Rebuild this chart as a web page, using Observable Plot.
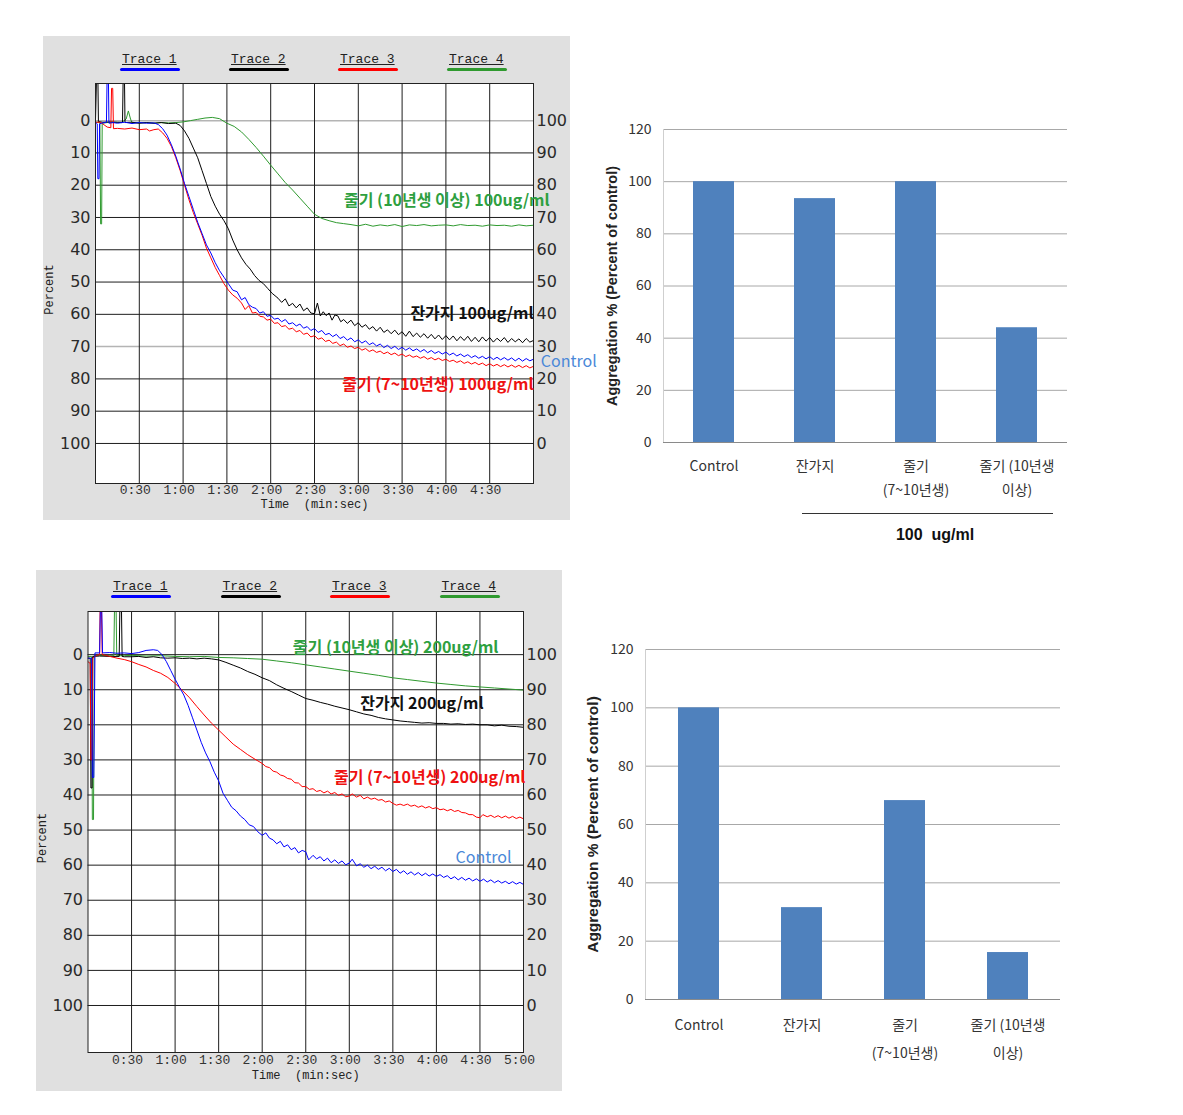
<!DOCTYPE html>
<html>
<head>
<meta charset="utf-8">
<script src="https://cdn.jsdelivr.net/npm/d3@7"></script>
<script src="https://cdn.jsdelivr.net/npm/@observablehq/plot@0.6"></script>
<style>
  body { margin: 0; background: #fff; }
  #root { position: relative; width: 1183px; height: 1115px; overflow: hidden; font-family: "Liberation Sans", Arial, sans-serif; }
  .panel { position: absolute; background: #e0e0e0; }
  .holder { position: absolute; }
  .panel svg, .holder svg { position: absolute; left: 0; top: 0; overflow: visible; }
  .leg { position: absolute; font-family: "Liberation Mono", monospace; font-size: 13px; line-height: 14px; color: #222; z-index: 2; }
  .leg span { text-decoration: underline; text-underline-offset: 1px; }
  .leg .bar { height: 3px; width: 60px; margin-left: -2px; margin-top: 1px; border-radius: 2px; }
  .bracket { position: absolute; height: 1px; background: #333; }
  .group { position: absolute; font-family: "Liberation Sans", Arial, sans-serif; font-weight: bold; font-size: 16px; color: #111; transform: translateX(-50%); white-space: pre; }
</style>
</head>
<body>
<div id="root"></div>
<script>
// ---------------- DATA ----------------
const traceNames = ["Trace 1", "Trace 2", "Trace 3", "Trace 4"];
const gridRows = [0, 10, 20, 30, 40, 50, 60, 70, 80, 90, 100];
const timeTicksA = [30, 60, 90, 120, 150, 180, 210, 240, 270];
const timeLabelsA = ["0:30", "1:00", "1:30", "2:00", "2:30", "3:00", "3:30", "4:00", "4:30"];
const timeTicksB = [30, 60, 90, 120, 150, 180, 210, 240, 270, 300];
const timeLabelsB = ["0:30", "1:00", "1:30", "2:00", "2:30", "3:00", "3:30", "4:00", "4:30", "5:00"];
const xTitle = "Time  (min:sec)";
const yTitle = "Percent";

// 100 ug/ml traces: [time s, percent]
const a100Control = [[0,0.5],[1.2,1],[1.6,18],[2.4,18],[2.8,1],[4,0.8],[7.5,0.5],[8,-15],[8.8,-15],[9.2,0.8],[12,0.6],[15,0.8],[20,0.5],[25,0.9],[30,0.6],[35,0.8],[40,0.7],[43,1.2],[46,2.5],[49,4.5],[52,7.5],[55,11],[58,15],[61,19.5],[64,23.5],[67,27.5],[70,31.5],[73,35],[76,38.5],[79,41],[82,44],[85,46.5],[88,48.5],[91,50.5],[94,52.5],[97,53],[100,55.5],[102.5,54.8],[105,57],[107.5,57.8],[110,58.2],[112.5,59.6],[115,59.2],[117.5,60.6],[120,60.3],[122.5,61.5],[125,61.2],[127.5,62.3],[130,61.6],[132.5,63],[135,62.6],[137.5,63.6],[140,63],[142.5,64.3],[145,63.8],[147.5,65],[150,64.4],[152.5,65.6],[155,65],[157.5,66.3],[160,65.9],[162.5,66.9],[165,66.2],[167.5,67.5],[170,66.9],[172.5,68],[175,67.3],[177.5,68.5],[180,67.9],[182.5,68.9],[185,68.2],[187.5,69.4],[190,68.8],[192.5,69.8],[195,69.2],[197.5,70.3],[200,69.6],[202.5,70.6],[205,69.9],[207.5,70.9],[210,70.2],[212.5,71.1],[215,70.4],[217.5,71.3],[220,70.7],[222.5,71.6],[225,70.9],[227.5,71.9],[230,71.2],[232.5,72.1],[235,71.5],[237.5,72.3],[240,71.7],[242.5,72.6],[245,72],[247.5,72.9],[250,72.3],[252.5,73.1],[255,72.5],[257.5,73.4],[260,72.8],[262.5,73.6],[265,73],[267.5,73.8],[270,73.1],[272.5,74],[275,73.3],[277.5,74.1],[280,73.4],[282.5,74.2],[285,73.5],[287.5,74.4],[290,73.6],[292.5,74.5],[295,73.7],[297.5,74.4],[300,73.9]];
const a100Twig = [[0,0],[0.8,-15],[1.6,-15],[2,0.3],[5,0.5],[10,0.4],[15,0.5],[18.5,0.5],[19,-15],[19.8,-15],[20.2,0.6],[25,0.5],[30,0.8],[35,0.6],[40,0.8],[45,0.6],[50,0.9],[55,0.8],[58,1.5],[61,3.2],[64,5.5],[67,8.5],[70,11.5],[73,15.5],[76,19.5],[79,23.5],[82,26.5],[85,29],[88,31],[91,33.5],[94,37],[97,40],[100,42.5],[103,44.5],[106,46],[109,48],[112,49.5],[115,50.5],[118,52],[121,53.5],[125,55],[127.5,56.3],[130,55.2],[132.5,57.4],[135,56.6],[137.5,58],[140,56.8],[142.5,58.9],[145,58],[147.5,59.6],[150,59.8],[152,56.5],[154,60.5],[156,59.2],[158,60.4],[160,59.6],[162,61.8],[164,60.2],[166,60.5],[168,62.3],[170,61.6],[172.5,62.8],[175,61.8],[177.5,63.5],[180,62.6],[182.5,64],[185,63.2],[187.5,64.6],[190,63.8],[192.5,65.2],[195,64],[197.5,65.6],[200,64.8],[202.5,66],[205,64.9],[207.5,66.3],[210,65.4],[212.5,66.8],[215,65.2],[217.5,66.9],[220,65.8],[222.5,67.1],[225,66],[227.5,67.4],[230,66.2],[232.5,67.6],[235,66.4],[237.5,67.8],[240,66.6],[242.5,67.9],[245,66.7],[247.5,68.2],[250,66.9],[252.5,68.1],[255,66.8],[257.5,68.4],[260,67.1],[262.5,68.5],[265,67],[267.5,68.3],[270,67.2],[272.5,68.6],[275,67.4],[277.5,68.4],[280,67.2],[282.5,68.7],[285,67.5],[287.5,68.5],[290,67.6],[292.5,68.8],[295,67.5],[297.5,68.6],[300,68.1]];
const a100Stem710 = [[0,0.5],[3,0.5],[5,1],[8,2],[10.5,2.2],[11,-10],[11.8,-10],[12.3,2.5],[15,2.4],[20,2.6],[25,2.3],[30,2.8],[35,2.6],[37,3.2],[40,2.8],[43,2.6],[46,3.8],[49,5.5],[52,8],[55,11.5],[58,15.5],[61,20],[64,24.5],[67,28.5],[70,32],[73,35.5],[76,39.5],[79,42.5],[82,45.5],[85,48],[88,50.5],[91,52.5],[94,54],[97,55],[100,56.5],[102.5,58.5],[105,57.3],[107.5,59.6],[110,59.4],[112.5,60.6],[115,60.8],[117.5,61.8],[120,61.5],[122.5,62.8],[125,62.6],[127.5,63.8],[130,63.5],[132.5,64.6],[135,64.3],[137.5,65.4],[140,65],[142.5,66.2],[145,65.8],[147.5,67],[150,66.6],[152.5,67.7],[155,67.3],[157.5,68.4],[160,68],[162.5,69],[165,68.6],[167.5,69.7],[170,69.2],[172.5,70.2],[175,69.8],[177.5,70.6],[180,70.2],[182.5,71.1],[185,70.6],[187.5,71.5],[190,71],[192.5,71.8],[195,71.4],[197.5,72.2],[200,71.7],[202.5,72.5],[205,72],[207.5,72.8],[210,72.3],[212.5,73.1],[215,72.6],[217.5,73.3],[220,72.9],[222.5,73.6],[225,73.1],[227.5,73.9],[230,73.4],[232.5,74.1],[235,73.6],[237.5,74.3],[240,73.9],[242.5,74.6],[245,74.2],[247.5,74.9],[250,74.4],[252.5,75.2],[255,74.7],[257.5,75.4],[260,74.9],[262.5,75.6],[265,75.1],[267.5,75.9],[270,75.3],[272.5,76],[275,75.5],[277.5,76.2],[280,75.6],[282.5,76.3],[285,75.7],[287.5,76.4],[290,75.8],[292.5,76.5],[295,75.9],[297.5,76.6],[300,76.1]];
const a100Stem10 = [[0,0.5],[3,0.5],[3.5,32],[4.2,32],[4.6,0.8],[8,0.6],[12,0.5],[18,0.6],[21,-0.5],[22.5,-3],[24,-0.5],[25,0.6],[30,0.7],[35,0.6],[40,0.8],[45,0.6],[50,0.7],[55,0.6],[60,0.4],[65,0],[70,-0.4],[75,-0.8],[80,-1],[85,-0.6],[90,0.8],[95,1.8],[100,3.5],[105,5.8],[110,8.3],[115,11],[120,13.8],[125,16.5],[130,19.2],[135,21.5],[140,24],[145,26.5],[150,29],[155,30.3],[160,31],[165,31.6],[170,31.9],[175,32.2],[180,32.6],[185,32.1],[190,32.7],[195,32.3],[200,32.6],[205,32.2],[210,32.8],[215,32.3],[220,32.5],[225,32.2],[230,32.6],[235,32.4],[240,32.3],[245,32.6],[250,32.2],[255,32.5],[260,32.4],[265,32.7],[270,32.3],[275,32.5],[280,32.4],[285,32.7],[290,32.3],[295,32.6],[300,32.4]];

// 200 ug/ml traces
const b200Control = [[0,1],[2.5,1],[3,35],[4,35],[4.8,-0.5],[8,-0.5],[8.6,-15],[9.4,-15],[10,-0.5],[15,-0.6],[20,-0.4],[25,-0.5],[30,-0.3],[35,-0.6],[40,-1.2],[45,-1.4],[48,-1.2],[51,0],[54,2],[57,4.5],[60,7],[63,9.3],[66,11.5],[69,14.5],[72,18],[75,21.5],[78,25],[81,28],[84,30.5],[87,33.5],[90,36],[93,39.5],[96,41.5],[99,43.5],[102,44.5],[105,46],[108,47],[111,48.5],[114,49],[117,50.5],[120,51.5],[122.5,50.8],[125,52.3],[127.5,52.8],[130,53.9],[132.5,53.2],[135,54.8],[137.5,54.2],[140,55.6],[142.5,55],[145,56.5],[147.5,55.8],[150,56.2],[152,58.5],[155,57.2],[157.5,58.2],[160,57.6],[162.5,58.8],[165,58],[167.5,59.3],[170,58.5],[172.5,59.5],[175,58.8],[177.5,59.9],[180,59.4],[182,58.3],[185,60.2],[187.5,59.6],[190,60.6],[192.5,60],[195,61],[197.5,60.3],[200,61.2],[202.5,60.6],[205,61.6],[207.5,60.9],[210,61.8],[212.5,61.2],[215,62.3],[217.5,61.6],[220,62.6],[222.5,61.9],[225,62.8],[227.5,62.1],[230,63],[232.5,62.3],[235,63.1],[237.5,62.5],[240,63.2],[242.5,62.7],[245,63.5],[247.5,63],[250,63.9],[252.5,63.3],[255,64.2],[257.5,63.5],[260,64.3],[262.5,63.7],[265,64.5],[267.5,63.9],[270,64.6],[272.5,64],[275,64.8],[277.5,64.2],[280,65],[282.5,64.4],[285,65.1],[287.5,64.6],[290,65.3],[292.5,64.7],[295,65.4],[297.5,64.9],[300,65.5]];
const b200Twig = [[0,1],[1.5,1],[2,38],[2.8,38],[3.2,0.5],[8,0.4],[15,0.5],[21.5,0.5],[22,-15],[23,-15],[23.5,0.5],[25,0.6],[30,0.6],[35,0.5],[40,0.8],[45,0.6],[50,0.9],[55,1],[60,0.9],[65,1.1],[70,1],[75,1.2],[80,1],[85,1.2],[90,1.5],[95,2.2],[100,3],[105,3.8],[110,4.8],[115,5.6],[120,6.6],[125,7.4],[130,8.6],[135,9.6],[140,10.5],[145,11.5],[150,12.5],[155,13],[160,13.6],[165,14.1],[170,14.7],[175,15.2],[180,15.7],[185,16.3],[190,16.9],[195,17.3],[200,17.9],[205,18.3],[210,18.6],[215,18.9],[220,19.1],[225,19.3],[230,19.5],[235,19.4],[240,19.6],[245,19.6],[250,19.8],[255,19.7],[260,19.9],[265,19.8],[270,20],[275,20],[280,20.3],[285,20.1],[290,20.4],[295,20.5],[300,20.7]];
const b200Stem710 = [[0,2],[1.5,2.5],[2,30],[2.8,30],[3.2,1],[6,0.2],[8,0],[8.4,-15],[9.2,-15],[9.8,0],[12,0.2],[15,0.5],[20,1],[25,1.4],[30,2],[35,2.8],[40,3.5],[45,4.5],[50,5.3],[55,6.5],[60,8.2],[65,10.2],[70,12.3],[75,14.8],[80,17.2],[85,19.5],[90,21.5],[95,23.5],[100,25.5],[105,27],[110,28.5],[115,29.8],[120,31],[122.5,31.9],[125,32.2],[127.5,33.2],[130,33.5],[132.5,34.3],[135,34.6],[137.5,35.3],[140,35.5],[142.5,36.5],[145,36.6],[147.5,37.6],[150,37.6],[152.5,38.4],[155,38.2],[157.5,39],[160,38.7],[162.5,39.4],[165,38.9],[167.5,39.7],[170,39.3],[172.5,40.1],[175,39.7],[177.5,40.5],[180,40.3],[182,39.7],[185,40.6],[187.5,40.1],[190,41.1],[192.5,40.6],[195,41.2],[197.5,40.9],[200,41.5],[202.5,41.3],[205,42],[207.5,41.7],[210,42.4],[212.5,42.9],[215,42.6],[217.5,43],[220,42.6],[222.5,43.2],[225,42.9],[227.5,43.5],[230,43.1],[232.5,43.7],[235,43.3],[237.5,43.9],[240,43.6],[242.5,44.2],[245,44],[247.5,44.5],[250,44.1],[252.5,44.7],[255,44.4],[257.5,45],[260,45.1],[262.5,45.6],[265,45.6],[267.5,46.3],[270,46.5],[272,45.6],[275,46.2],[277.5,45.8],[280,46.4],[282.5,45.9],[285,46.5],[287.5,46],[290,46.6],[292.5,46.1],[295,46.7],[297.5,46.3],[300,46.8]];
const b200Stem10 = [[0,0.5],[2.5,0.5],[3,47],[3.8,47],[4.3,0.3],[8,0.2],[15,0.3],[17.8,0.3],[18.3,-15],[19.3,-15],[19.8,0.3],[25,0.3],[30,0.2],[40,0.4],[50,0.3],[60,0.5],[70,0.6],[80,0.5],[90,0.8],[100,0.9],[110,1.1],[120,1.3],[130,1.8],[140,2.3],[150,2.9],[160,3.5],[170,4.1],[180,4.7],[190,5.3],[200,5.9],[210,6.6],[220,7.1],[230,7.6],[240,8.1],[250,8.5],[260,8.9],[270,9.2],[280,9.5],[290,9.8],[300,10.1]];

// annotations (text, time, percent)
const notes100 = [
  { key: "stem10", text: "줄기 (10년생 이상) 100ug/ml", t: 311, v: 24.8, anchor: "end" },
  { key: "twig", text: "잔가지 100ug/ml", t: 300, v: 59.8, anchor: "end" },
  { key: "control", text: "Control", t: 305, v: 74.6, anchor: "start" },
  { key: "stem710", text: "줄기 (7~10년생) 100ug/ml", t: 300, v: 81.7, anchor: "end" }
];
const notes200 = [
  { key: "stem10", text: "줄기 (10년생 이상) 200ug/ml", t: 282.7, v: -2, anchor: "end" },
  { key: "twig", text: "잔가지 200ug/ml", t: 272.4, v: 14, anchor: "end" },
  { key: "stem710", text: "줄기 (7~10년생) 200ug/ml", t: 301.3, v: 35, anchor: "end" },
  { key: "control", text: "Control", t: 291.7, v: 57.8, anchor: "end" }
];

// bar charts
const barCats = ["Control", "잔가지", "줄기\n(7~10년생)", "줄기 (10년생\n이상)"];
const bar100 = [100, 93.5, 100, 44];
const bar200 = [100, 31.5, 68.2, 16.1];
const barTicks = [0, 20, 40, 60, 80, 100, 120];
const barYTitle = "Aggregation % (Percent of control)";
const groupLabel = "100  ug/ml";

// ---------------- STYLE ----------------
const traceColor = { control: "#0000ff", twig: "#000000", stem710: "#ff0000", stem10: "#2f9a2f" };
const noteColor = { control: "#4a88d8", twig: "#111111", stem710: "#ee1111", stem10: "#2ea040" };
const legendColors = [traceColor.control, traceColor.twig, traceColor.stem710, traceColor.stem10];

const root = document.getElementById("root");

function tracePanel(cfg) {
  const box = document.createElement("div");
  box.className = "panel";
  Object.assign(box.style, { left: cfg.left + "px", top: cfg.top + "px", width: cfg.width + "px", height: cfg.height + "px" });
  root.appendChild(box);
  const fmt = new Map(cfg.ticks.map((v, i) => [v, cfg.tickLabels[i]]));
  const dark = gridRows.filter(d => !cfg.grayRows.includes(d));
  const gray = gridRows.filter(d => cfg.grayRows.includes(d));
  const series = [
    { data: cfg.series.stem10, color: traceColor.stem10 },
    { data: cfg.series.twig, color: traceColor.twig },
    { data: cfg.series.stem710, color: traceColor.stem710 },
    { data: cfg.series.control, color: traceColor.control }
  ];
  const svg = Plot.plot({
    width: cfg.width, height: cfg.height,
    marginLeft: cfg.m[0], marginTop: cfg.m[1], marginRight: cfg.m[2], marginBottom: cfg.m[3],
    style: { background: "transparent", overflow: "visible" },
    x: { domain: [0, 300] },
    y: { domain: cfg.yDomain },
    marks: [
      Plot.frame({ fill: "white", stroke: null }),
      Plot.ruleY(dark, { stroke: "#1e1e1e" }),
      Plot.ruleY(gray, { stroke: "#b4b4b4", strokeWidth: 1.5 }),
      Plot.ruleX(cfg.ticks.filter(d => d < 300), { stroke: "#1e1e1e" }),
      ...series.map(s => Plot.line(s.data, { x: d => d[0], y: d => d[1], stroke: s.color, strokeWidth: 1, clip: true })),
      Plot.frame({ stroke: "#222" }),
      Plot.axisY({ ticks: gridRows, anchor: "left", tickSize: 0, tickPadding: 5, fontSize: 16, fontFamily: "DejaVu Sans", fill: "#2a2a2a", label: null }),
      Plot.axisY({ ticks: gridRows, anchor: "right", tickSize: 0, tickPadding: 3, tickFormat: d => String(100 - d), fontSize: 16, fontFamily: "DejaVu Sans", fill: "#2a2a2a", label: null }),
      Plot.axisX({ ticks: cfg.ticks, anchor: "bottom", tickSize: 0, tickPadding: cfg.tickPad, tickFormat: d => fmt.get(d), fontSize: 13, fontFamily: "Liberation Mono", fill: "#333", dx: -4, label: null }),
      Plot.text([xTitle], { frameAnchor: "bottom", dy: cfg.xTitleDy, fontSize: 12, fontFamily: "Liberation Mono", fill: "#222" }),
      Plot.text([yTitle], { frameAnchor: "left", textAnchor: "middle", rotate: -90, dx: -46, dy: 6, fontSize: 12, fontFamily: "Liberation Mono", fill: "#222" }),
      ...cfg.notes.map(n => Plot.text([n], {
        x: "t", y: "v", text: "text", textAnchor: n.anchor,
        fill: noteColor[n.key], fontWeight: n.key === "control" ? "normal" : "bold",
        fontSize: 16, fontFamily: "Noto Sans CJK KR"
      }))
    ]
  });
  box.appendChild(svg);
  traceNames.forEach((name, i) => {
    const d = document.createElement("div");
    d.className = "leg";
    d.style.left = (cfg.legLeft + i * cfg.legStep) + "px";
    d.style.top = cfg.legTop + "px";
    d.innerHTML = `<span>${name}</span><div class="bar" style="background:${legendColors[i]}"></div>`;
    box.appendChild(d);
  });
}

function barPanel(cfg) {
  const holder = document.createElement("div");
  holder.className = "holder";
  Object.assign(holder.style, { left: cfg.left + "px", top: cfg.top + "px", width: cfg.width + "px", height: cfg.height + "px" });
  root.appendChild(holder);
  const table = barCats.map((c, i) => ({ cat: c, value: cfg.values[i] }));
  const svg = Plot.plot({
    width: cfg.width, height: cfg.height,
    marginLeft: cfg.m[0], marginTop: cfg.m[1], marginRight: cfg.m[2], marginBottom: cfg.m[3],
    style: { background: "transparent", overflow: "visible" },
    x: { domain: barCats, paddingInner: cfg.pin, paddingOuter: cfg.pin / 2 },
    y: { domain: [0, 120] },
    marks: [
      Plot.ruleY(barTicks.filter(d => d > 0), { stroke: "#a8a8a8" }),
      Plot.frame({ anchor: "left", stroke: "#cfcfcf" }),
      Plot.barY(table, { x: "cat", y: "value", fill: "#4f81bd" }),
      Plot.ruleY([0], { stroke: "#8a8a8a" }),
      Plot.axisY({ ticks: barTicks, tickSize: 0, tickPadding: 12, fontSize: 14, fontFamily: "Noto Sans CJK KR", fill: "#333", label: null }),
      Plot.axisX({ tickSize: 0, tickPadding: cfg.xPad, fontSize: cfg.xFont, lineHeight: cfg.lineHeight, fontFamily: "Noto Sans CJK KR", fill: "#333", label: null }),
      Plot.text([barYTitle], { frameAnchor: "left", textAnchor: "middle", rotate: -90, dx: cfg.titleDx, fontWeight: "bold", fontSize: cfg.titleFont, fontFamily: "Liberation Sans", fill: "#222" })
    ]
  });
  holder.appendChild(svg);
}

tracePanel({
  left: 43, top: 36, width: 527, height: 484, m: [52, 47, 37, 37],
  yDomain: [112.4, -11.5], grayRows: [0, 70],
  ticks: timeTicksA, tickLabels: timeLabelsA, tickPad: 1, xTitleDy: 24,
  series: { control: a100Control, twig: a100Twig, stem710: a100Stem710, stem10: a100Stem10 },
  notes: notes100, legLeft: 79, legTop: 17, legStep: 109
});
tracePanel({
  left: 36, top: 570, width: 526, height: 521, m: [51.5, 41, 39, 39],
  yDomain: [113.4, -12.3], grayRows: [],
  ticks: timeTicksB, tickLabels: timeLabelsB, tickPad: 2, xTitleDy: 26,
  series: { control: b200Control, twig: b200Twig, stem710: b200Stem710, stem10: b200Stem10 },
  notes: notes200, legLeft: 77, legTop: 10, legStep: 109.5
});

barPanel({
  left: 590, top: 110, width: 490, height: 440, m: [73, 19, 13, 108],
  values: bar100, pin: 0.594, xPad: 12, xFont: 14, lineHeight: 1.7, titleDx: -51, titleFont: 14.5
});
barPanel({
  left: 570, top: 630, width: 500, height: 440, m: [75, 19, 10, 71],
  values: bar200, pin: 0.605, xPad: 11, xFont: 14, lineHeight: 2.0, titleDx: -52, titleFont: 15.5
});

// group bracket under the first bar chart
const br = document.createElement("div");
br.className = "bracket";
Object.assign(br.style, { left: "802px", top: "513px", width: "251px" });
root.appendChild(br);
const gl = document.createElement("div");
gl.className = "group";
gl.textContent = groupLabel;
Object.assign(gl.style, { left: "935px", top: "526px" });
root.appendChild(gl);
</script>
</body>
</html>
